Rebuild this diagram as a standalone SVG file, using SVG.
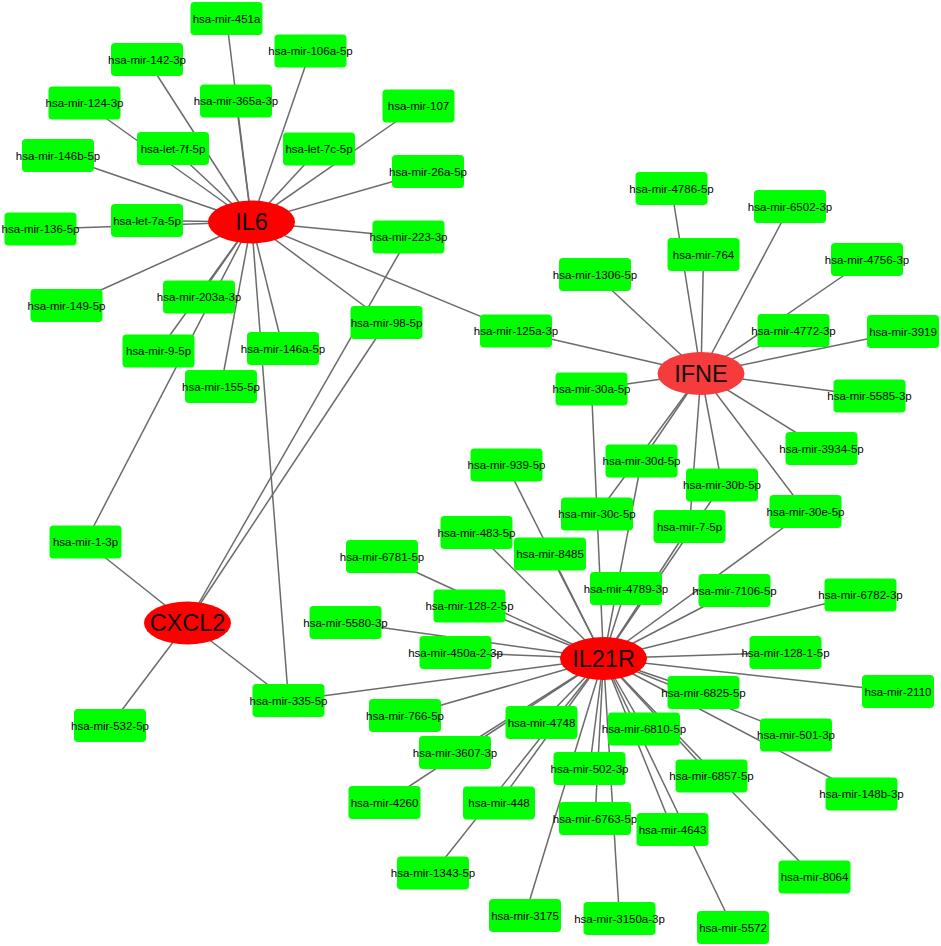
<svg xmlns="http://www.w3.org/2000/svg" width="941" height="946" viewBox="0 0 941 946">
<style>
.e line{stroke:#6b6b6b;stroke-width:1.5}
.m text{font-family:"Liberation Sans",Arial,sans-serif;font-size:11.5px;fill:#000;text-anchor:middle}
.g ellipse{fill:#ff0000}
.g text{font-family:"Liberation Sans",Arial,sans-serif;font-size:23.5px;fill:#111;text-anchor:middle}
</style>
<defs>
<rect id="box" x="-36" y="-16.5" width="72" height="33" rx="4" fill="#00ff00"/>
</defs>
<rect width="941" height="946" fill="#fff"/>
<g id="connectors" class="e">
<!-- IL6 -->
<line x1="251.5" y1="222" x2="226.5" y2="18.5"/>
<line x1="251.5" y1="222" x2="236" y2="101"/>
<line x1="251.5" y1="222" x2="147" y2="59.5"/>
<line x1="251.5" y1="222" x2="84.5" y2="103"/>
<line x1="251.5" y1="222" x2="173" y2="148.5"/>
<line x1="251.5" y1="222" x2="310.5" y2="51"/>
<line x1="251.5" y1="222" x2="418.5" y2="106"/>
<line x1="251.5" y1="222" x2="319" y2="149"/>
<line x1="251.5" y1="222" x2="428" y2="171.5"/>
<line x1="251.5" y1="222" x2="408.5" y2="237"/>
<line x1="251.5" y1="222" x2="386.5" y2="322.5"/>
<line x1="251.5" y1="222" x2="516" y2="331"/>
<line x1="251.5" y1="222" x2="40.5" y2="229"/>
<line x1="251.5" y1="222" x2="147" y2="220.5"/>
<line x1="251.5" y1="222" x2="58" y2="155.5"/>
<line x1="251.5" y1="222" x2="66.5" y2="305.5"/>
<line x1="251.5" y1="222" x2="199" y2="297"/>
<line x1="251.5" y1="222" x2="158.5" y2="351"/>
<line x1="251.5" y1="222" x2="85.5" y2="542"/>
<line x1="251.5" y1="222" x2="221" y2="386.5"/>
<line x1="251.5" y1="222" x2="283" y2="348.5"/>
<line x1="251.5" y1="222" x2="288.5" y2="700.6"/>
<!-- CXCL2 -->
<line x1="187.5" y1="623" x2="85.5" y2="542"/>
<line x1="187.5" y1="623" x2="110" y2="725.7"/>
<line x1="187.5" y1="623" x2="288.5" y2="700.6"/>
<line x1="187.5" y1="623" x2="408.5" y2="237"/>
<line x1="187.5" y1="623" x2="386.5" y2="322.5"/>
<!-- IFNE -->
<line x1="701" y1="373.5" x2="671.5" y2="188.5"/>
<line x1="701" y1="373.5" x2="703.5" y2="254.5"/>
<line x1="701" y1="373.5" x2="790" y2="206.5"/>
<line x1="701" y1="373.5" x2="867" y2="259.5"/>
<line x1="701" y1="373.5" x2="793.5" y2="330.5"/>
<line x1="701" y1="373.5" x2="903" y2="331.5"/>
<line x1="701" y1="373.5" x2="595" y2="274.5"/>
<line x1="701" y1="373.5" x2="516" y2="331"/>
<line x1="701" y1="373.5" x2="591.5" y2="389"/>
<line x1="701" y1="373.5" x2="869.5" y2="396"/>
<line x1="701" y1="373.5" x2="821.5" y2="448.5"/>
<line x1="701" y1="373.5" x2="805.5" y2="511.5"/>
<line x1="701" y1="373.5" x2="722" y2="485"/>
<line x1="701" y1="373.5" x2="689.5" y2="526.5"/>
<line x1="701" y1="373.5" x2="641.5" y2="461"/>
<line x1="701" y1="373.5" x2="597" y2="514"/>
<!-- IL21R -->
<line x1="603.5" y1="658.5" x2="591.5" y2="389"/>
<line x1="603.5" y1="658.5" x2="641.5" y2="461"/>
<line x1="603.5" y1="658.5" x2="722" y2="485"/>
<line x1="603.5" y1="658.5" x2="689.5" y2="526.5"/>
<line x1="603.5" y1="658.5" x2="805.5" y2="511.5"/>
<line x1="603.5" y1="658.5" x2="626" y2="588.5"/>
<line x1="603.5" y1="658.5" x2="506.5" y2="465"/>
<line x1="603.5" y1="658.5" x2="550" y2="554"/>
<line x1="603.5" y1="658.5" x2="476.5" y2="532.5"/>
<line x1="603.5" y1="658.5" x2="382" y2="556.5"/>
<line x1="603.5" y1="658.5" x2="469.5" y2="606"/>
<line x1="603.5" y1="658.5" x2="345.5" y2="622.5"/>
<line x1="603.5" y1="658.5" x2="455.5" y2="652.5"/>
<line x1="603.5" y1="658.5" x2="288.5" y2="700.6"/>
<line x1="603.5" y1="658.5" x2="405" y2="715.5"/>
<line x1="603.5" y1="658.5" x2="455" y2="752.5"/>
<line x1="603.5" y1="658.5" x2="384.5" y2="802.5"/>
<line x1="603.5" y1="658.5" x2="541.5" y2="722.5"/>
<line x1="603.5" y1="658.5" x2="499" y2="803"/>
<line x1="603.5" y1="658.5" x2="433" y2="873"/>
<line x1="603.5" y1="658.5" x2="589.5" y2="768.5"/>
<line x1="603.5" y1="658.5" x2="525" y2="915.5"/>
<line x1="603.5" y1="658.5" x2="595" y2="818.5"/>
<line x1="603.5" y1="658.5" x2="619.5" y2="918.5"/>
<line x1="603.5" y1="658.5" x2="672.5" y2="829.5"/>
<line x1="603.5" y1="658.5" x2="733" y2="927.5"/>
<line x1="603.5" y1="658.5" x2="644" y2="729"/>
<line x1="603.5" y1="658.5" x2="711.5" y2="776"/>
<line x1="603.5" y1="658.5" x2="814.5" y2="877"/>
<line x1="603.5" y1="658.5" x2="703.5" y2="692.5"/>
<line x1="603.5" y1="658.5" x2="796" y2="735"/>
<line x1="603.5" y1="658.5" x2="861.5" y2="794"/>
<line x1="603.5" y1="658.5" x2="898" y2="691.5"/>
<line x1="603.5" y1="658.5" x2="785.5" y2="652.5"/>
<line x1="603.5" y1="658.5" x2="860.5" y2="595"/>
<line x1="603.5" y1="658.5" x2="734.5" y2="590.5"/>
</g>
<g id="nodes">
<g id="n-451a" class="m" transform="translate(226.5,18.5)"><use href="#box"/><text y="4">hsa-mir-451a</text></g>
<g id="n-142-3p" class="m" transform="translate(147,59.5)"><use href="#box"/><text y="4">hsa-mir-142-3p</text></g>
<g id="n-106a-5p" class="m" transform="translate(310.5,51)"><use href="#box"/><text y="4">hsa-mir-106a-5p</text></g>
<g id="n-124-3p" class="m" transform="translate(84.5,103)"><use href="#box"/><text y="4">hsa-mir-124-3p</text></g>
<g id="n-365a-3p" class="m" transform="translate(236,101)"><use href="#box"/><text y="4">hsa-mir-365a-3p</text></g>
<g id="n-107" class="m" transform="translate(418.5,106)"><use href="#box"/><text y="4">hsa-mir-107</text></g>
<g id="n-146b-5p" class="m" transform="translate(58,155.5)"><use href="#box"/><text y="4">hsa-mir-146b-5p</text></g>
<g id="n-let-7f-5p" class="m" transform="translate(173,148.5)"><use href="#box"/><text y="4">hsa-let-7f-5p</text></g>
<g id="n-let-7c-5p" class="m" transform="translate(319,149)"><use href="#box"/><text y="4">hsa-let-7c-5p</text></g>
<g id="n-26a-5p" class="m" transform="translate(428,171.5)"><use href="#box"/><text y="4">hsa-mir-26a-5p</text></g>
<g id="n-136-5p" class="m" transform="translate(40.5,229)"><use href="#box"/><text y="4">hsa-mir-136-5p</text></g>
<g id="n-let-7a-5p" class="m" transform="translate(147,220.5)"><use href="#box"/><text y="4">hsa-let-7a-5p</text></g>
<g id="n-223-3p" class="m" transform="translate(408.5,237)"><use href="#box"/><text y="4">hsa-mir-223-3p</text></g>
<g id="n-149-5p" class="m" transform="translate(66.5,305.5)"><use href="#box"/><text y="4">hsa-mir-149-5p</text></g>
<g id="n-203a-3p" class="m" transform="translate(199,297)"><use href="#box"/><text y="4">hsa-mir-203a-3p</text></g>
<g id="n-98-5p" class="m" transform="translate(386.5,322.5)"><use href="#box"/><text y="4">hsa-mir-98-5p</text></g>
<g id="n-9-5p" class="m" transform="translate(158.5,351)"><use href="#box"/><text y="4">hsa-mir-9-5p</text></g>
<g id="n-146a-5p" class="m" transform="translate(283,348.5)"><use href="#box"/><text y="4">hsa-mir-146a-5p</text></g>
<g id="n-155-5p" class="m" transform="translate(221,386.5)"><use href="#box"/><text y="4">hsa-mir-155-5p</text></g>
<g id="n-4786-5p" class="m" transform="translate(671.5,188.5)"><use href="#box"/><text y="4">hsa-mir-4786-5p</text></g>
<g id="n-6502-3p" class="m" transform="translate(790,206.5)"><use href="#box"/><text y="4">hsa-mir-6502-3p</text></g>
<g id="n-764" class="m" transform="translate(703.5,254.5)"><use href="#box"/><text y="4">hsa-mir-764</text></g>
<g id="n-4756-3p" class="m" transform="translate(867,259.5)"><use href="#box"/><text y="4">hsa-mir-4756-3p</text></g>
<g id="n-1306-5p" class="m" transform="translate(595,274.5)"><use href="#box"/><text y="4">hsa-mir-1306-5p</text></g>
<g id="n-125a-3p" class="m" transform="translate(516,331)"><use href="#box"/><text y="4">hsa-mir-125a-3p</text></g>
<g id="n-4772-3p" class="m" transform="translate(793.5,330.5)"><use href="#box"/><text y="4">hsa-mir-4772-3p</text></g>
<g id="n-3919" class="m" transform="translate(903,331.5)"><use href="#box"/><text y="4">hsa-mir-3919</text></g>
<g id="n-30a-5p" class="m" transform="translate(591.5,389)"><use href="#box"/><text y="4">hsa-mir-30a-5p</text></g>
<g id="n-5585-3p" class="m" transform="translate(869.5,396)"><use href="#box"/><text y="4">hsa-mir-5585-3p</text></g>
<g id="n-3934-5p" class="m" transform="translate(821.5,448.5)"><use href="#box"/><text y="4">hsa-mir-3934-5p</text></g>
<g id="n-939-5p" class="m" transform="translate(506.5,465)"><use href="#box"/><text y="4">hsa-mir-939-5p</text></g>
<g id="n-30d-5p" class="m" transform="translate(641.5,461)"><use href="#box"/><text y="4">hsa-mir-30d-5p</text></g>
<g id="n-30b-5p" class="m" transform="translate(722,485)"><use href="#box"/><text y="4">hsa-mir-30b-5p</text></g>
<g id="n-30c-5p" class="m" transform="translate(597,514)"><use href="#box"/><text y="4">hsa-mir-30c-5p</text></g>
<g id="n-30e-5p" class="m" transform="translate(805.5,511.5)"><use href="#box"/><text y="4">hsa-mir-30e-5p</text></g>
<g id="n-7-5p" class="m" transform="translate(689.5,526.5)"><use href="#box"/><text y="4">hsa-mir-7-5p</text></g>
<g id="n-483-5p" class="m" transform="translate(476.5,532.5)"><use href="#box"/><text y="4">hsa-mir-483-5p</text></g>
<g id="n-8485" class="m" transform="translate(550,554)"><use href="#box"/><text y="4">hsa-mir-8485</text></g>
<g id="n-6781-5p" class="m" transform="translate(382,556.5)"><use href="#box"/><text y="4">hsa-mir-6781-5p</text></g>
<g id="n-4789-3p" class="m" transform="translate(626,588.5)"><use href="#box"/><text y="4">hsa-mir-4789-3p</text></g>
<g id="n-128-2-5p" class="m" transform="translate(469.5,606)"><use href="#box"/><text y="4">hsa-mir-128-2-5p</text></g>
<g id="n-5580-3p" class="m" transform="translate(345.5,622.5)"><use href="#box"/><text y="4">hsa-mir-5580-3p</text></g>
<g id="n-450a-2-3p" class="m" transform="translate(455.5,652.5)"><use href="#box"/><text y="4">hsa-mir-450a-2-3p</text></g>
<g id="n-7106-5p" class="m" transform="translate(734.5,590.5)"><use href="#box"/><text y="4">hsa-mir-7106-5p</text></g>
<g id="n-6782-3p" class="m" transform="translate(860.5,595)"><use href="#box"/><text y="4">hsa-mir-6782-3p</text></g>
<g id="n-128-1-5p" class="m" transform="translate(785.5,652.5)"><use href="#box"/><text y="4">hsa-mir-128-1-5p</text></g>
<g id="n-2110" class="m" transform="translate(898,691.5)"><use href="#box"/><text y="4">hsa-mir-2110</text></g>
<g id="n-6825-5p" class="m" transform="translate(703.5,692.5)"><use href="#box"/><text y="4">hsa-mir-6825-5p</text></g>
<g id="n-4748" class="m" transform="translate(541.5,722.5)"><use href="#box"/><text y="4">hsa-mir-4748</text></g>
<g id="n-6810-5p" class="m" transform="translate(644,729)"><use href="#box"/><text y="4">hsa-mir-6810-5p</text></g>
<g id="n-501-3p" class="m" transform="translate(796,735)"><use href="#box"/><text y="4">hsa-mir-501-3p</text></g>
<g id="n-502-3p" class="m" transform="translate(589.5,768.5)"><use href="#box"/><text y="4">hsa-mir-502-3p</text></g>
<g id="n-6857-5p" class="m" transform="translate(711.5,776)"><use href="#box"/><text y="4">hsa-mir-6857-5p</text></g>
<g id="n-148b-3p" class="m" transform="translate(861.5,794)"><use href="#box"/><text y="4">hsa-mir-148b-3p</text></g>
<g id="n-448" class="m" transform="translate(499,803)"><use href="#box"/><text y="4">hsa-mir-448</text></g>
<g id="n-6763-5p" class="m" transform="translate(595,818.5)"><use href="#box"/><text y="4">hsa-mir-6763-5p</text></g>
<g id="n-4643" class="m" transform="translate(672.5,829.5)"><use href="#box"/><text y="4">hsa-mir-4643</text></g>
<g id="n-8064" class="m" transform="translate(814.5,877)"><use href="#box"/><text y="4">hsa-mir-8064</text></g>
<g id="n-3175" class="m" transform="translate(525,915.5)"><use href="#box"/><text y="4">hsa-mir-3175</text></g>
<g id="n-3150a-3p" class="m" transform="translate(619.5,918.5)"><use href="#box"/><text y="4">hsa-mir-3150a-3p</text></g>
<g id="n-5572" class="m" transform="translate(733,927.5)"><use href="#box"/><text y="4">hsa-mir-5572</text></g>
<g id="n-1-3p" class="m" transform="translate(85.5,542)"><use href="#box"/><text y="4">hsa-mir-1-3p</text></g>
<g id="n-532-5p" class="m" transform="translate(110,725.5)"><use href="#box"/><text y="4">hsa-mir-532-5p</text></g>
<g id="n-335-5p" class="m" transform="translate(288.5,700.5)"><use href="#box"/><text y="4">hsa-mir-335-5p</text></g>
<g id="n-766-5p" class="m" transform="translate(405,715.5)"><use href="#box"/><text y="4">hsa-mir-766-5p</text></g>
<g id="n-3607-3p" class="m" transform="translate(455,752.5)"><use href="#box"/><text y="4">hsa-mir-3607-3p</text></g>
<g id="n-4260" class="m" transform="translate(384.5,802.5)"><use href="#box"/><text y="4">hsa-mir-4260</text></g>
<g id="n-1343-5p" class="m" transform="translate(433,873)"><use href="#box"/><text y="4">hsa-mir-1343-5p</text></g>
<g id="IL6" class="g" transform="translate(251.5,222)"><ellipse rx="43.5" ry="21.5"/><text y="8">IL6</text></g>
<g id="IFNE" class="g" transform="translate(701,373.5)"><ellipse rx="43.5" ry="21.5" style="fill:#f53b3b"/><text y="8">IFNE</text></g>
<g id="CXCL2" class="g" transform="translate(187.5,623)"><ellipse rx="43.5" ry="21.5"/><text y="8">CXCL2</text></g>
<g id="IL21R" class="g" transform="translate(603.5,658.5)"><ellipse rx="43.5" ry="21.5"/><text y="8">IL21R</text></g>
</g>
</svg>
